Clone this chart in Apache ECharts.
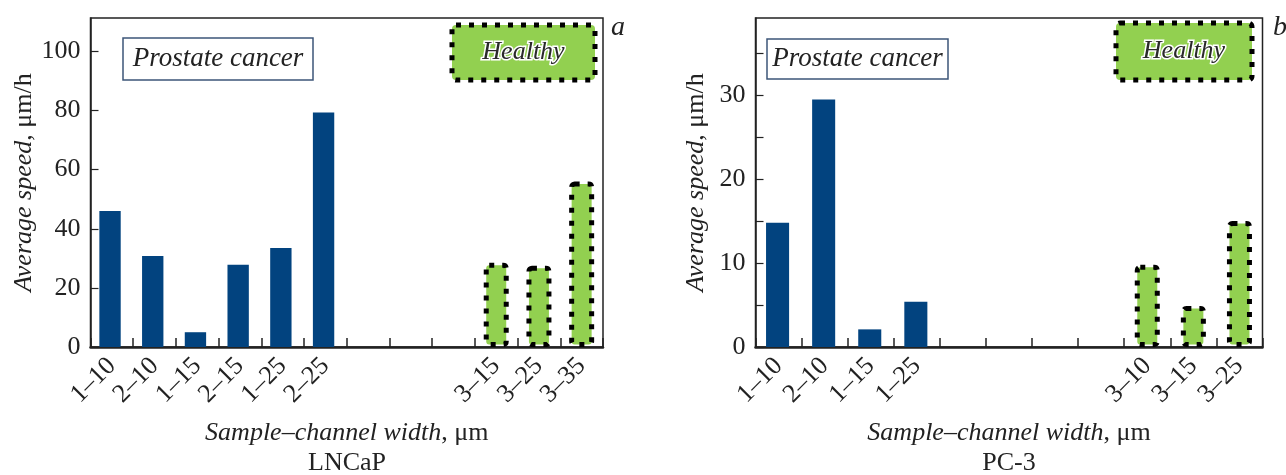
<!DOCTYPE html>
<html>
<head>
<meta charset="UTF-8">
<title>speed</title>
<script src="https://cdn.jsdelivr.net/npm/echarts@6/dist/echarts.min.js"></script>
</head>
<body style="margin:0;background:#fff">
<div id="main" style="width:1286px;height:475px;"></div>
<script type="text/javascript">
// panel a: LNCaP
var catA = ['1–10', '2–10', '1–15', '2–15', '1–25', '2–25', ' ', '  ', '   ', '3–15', '3–25', '3–35'];
var cancerA = [46, 30.8, 5, 27.8, 33.5, 79.3, '-', '-', '-', '-', '-', '-'];
var healthyA = ['-', '-', '-', '-', '-', '-', '-', '-', '-', 28.5, 27.5, 56];
// panel b: PC-3
var catB = ['1–10', '2–10', '1–15', '1–25', ' ', '  ', '   ', '    ', '3–10', '3–15', '3–25'];
var cancerB = [14.8, 29.5, 2.1, 5.4, '-', '-', '-', '-', '-', '-', '-'];
var healthyB = ['-', '-', '-', '-', '-', '-', '-', '-', 9.8, 4.9, 15];

var FONT = 'Liberation Serif';
var FS = 26;
var BLUE = '#02437f';
var GREEN = '#92d050';
var INK = '#222';

var chart = echarts.init(document.getElementById('main'));

function xAxisFor(idx, cats) {
	return {
		type : 'category',
		gridIndex : idx,
		data : cats,
		name : '{i|Sample–channel width}, μm',
		nameLocation : 'middle',
		nameGap : 73,
		nameTextStyle : {
			fontFamily : FONT, fontSize : FS, color : INK,
			rich : { i : { fontFamily : FONT, fontSize : FS, fontStyle : 'italic', color : INK } }
		},
		axisLine : { lineStyle : { color : INK, width : 2.5 } },
		axisTick : { show : true, interval : 0, inside : true, length : 9, lineStyle : { color : INK, width : 1.5 } },
		axisLabel : { rotate : 45, margin : 15, interval : 0, fontFamily : FONT, fontSize : FS, color : INK }
	};
}

function yAxisFor(idx, max, interval, fmt) {
	return {
		type : 'value',
		gridIndex : idx,
		min : 0,
		max : max,
		interval : interval,
		name : '{i|Average speed}, μm/h',
		nameLocation : 'middle',
		nameRotate : 90,
		nameGap : 46,
		nameTextStyle : {
			fontFamily : FONT, fontSize : FS, color : INK,
			rich : { i : { fontFamily : FONT, fontSize : FS, fontStyle : 'italic', color : INK } }
		},
		splitLine : { show : false },
		axisLine : { show : true, lineStyle : { color : INK, width : 1.5 } },
		axisTick : { show : true, inside : true, length : 8, lineStyle : { color : INK, width : 1.2 } },
		axisLabel : { showMaxLabel : false, margin : 10, fontFamily : FONT, fontSize : FS, color : INK, formatter : fmt }
	};
}

function cancerBar(idx, data) {
	return {
		type : 'bar', xAxisIndex : idx, yAxisIndex : idx,
		data : data, barWidth : '50%', barGap : '-100%',
		itemStyle : { color : BLUE }
	};
}

function healthyBar(idx, data) {
	return {
		type : 'bar', xAxisIndex : idx, yAxisIndex : idx,
		data : data, barWidth : 25, barGap : '-100%',
		itemStyle : { color : GREEN, borderColor : '#000', borderWidth : 5, borderType : [5, 8], borderRadius : 3 }
	};
}

function labelBox(x, y, w, h, text) {
	return {
		type : 'group',
		children : [ {
			type : 'rect',
			shape : { x : x, y : y, width : w, height : h },
			style : { fill : '#fff', stroke : '#3d5678', lineWidth : 1.5 }
		}, {
			type : 'text',
			x : x + w / 2, y : y + h / 2,
			style : { text : text, font : 'italic 27px ' + FONT, fill : INK, align : 'center', verticalAlign : 'middle' }
		} ]
	};
}

function healthyBox(x, y, w, h) {
	return {
		type : 'group',
		children : [ {
			type : 'rect',
			shape : { x : x, y : y, width : w, height : h, r : 4 },
			style : { fill : GREEN, stroke : '#000', lineWidth : 5, lineDash : [5, 8] }
		}, {
			type : 'text',
			x : x + w / 2, y : y + h / 2,
			style : { text : 'Healthy', font : 'italic 26px ' + FONT, fill : '#2a2a2a', stroke : '#fff', lineWidth : 3, align : 'center', verticalAlign : 'middle' }
		} ]
	};
}

function plainText(x, y, text, font) {
	return {
		type : 'text', x : x, y : y,
		style : { text : text, font : font, fill : INK, align : 'center', verticalAlign : 'middle' }
	};
}

var option = {
	animation : false,
	grid : [ {
		left : 90.5, top : 18, width : 512.5, height : 329,
		show : true, borderColor : INK, borderWidth : 1.5, backgroundColor : 'transparent'
	}, {
		left : 755.5, top : 18, width : 507, height : 329,
		show : true, borderColor : INK, borderWidth : 1.5, backgroundColor : 'transparent'
	} ],
	xAxis : [ xAxisFor(0, catA), xAxisFor(1, catB) ],
	yAxis : [
		yAxisFor(0, 111.3, 20, function (v) { return v; }),
		yAxisFor(1, 39.2, 5, function (v) { return v % 10 === 0 ? v : ''; })
	],
	series : [ cancerBar(0, cancerA), healthyBar(0, healthyA), cancerBar(1, cancerB), healthyBar(1, healthyB) ],
	graphic : [
		labelBox(123, 38, 190, 42, 'Prostate cancer'),
		labelBox(767, 39, 181, 40, 'Prostate cancer'),
		healthyBox(452, 25, 143, 55),
		healthyBox(1116, 23, 136, 57),
		plainText(618, 28, 'a', 'italic 28px ' + FONT),
		plainText(1280, 28, 'b', 'italic 28px ' + FONT),
		plainText(347, 463, 'LNCaP', '26px ' + FONT),
		plainText(1009, 463, 'PC-3', '26px ' + FONT)
	]
};

chart.setOption(option);
</script>
</body>
</html>
